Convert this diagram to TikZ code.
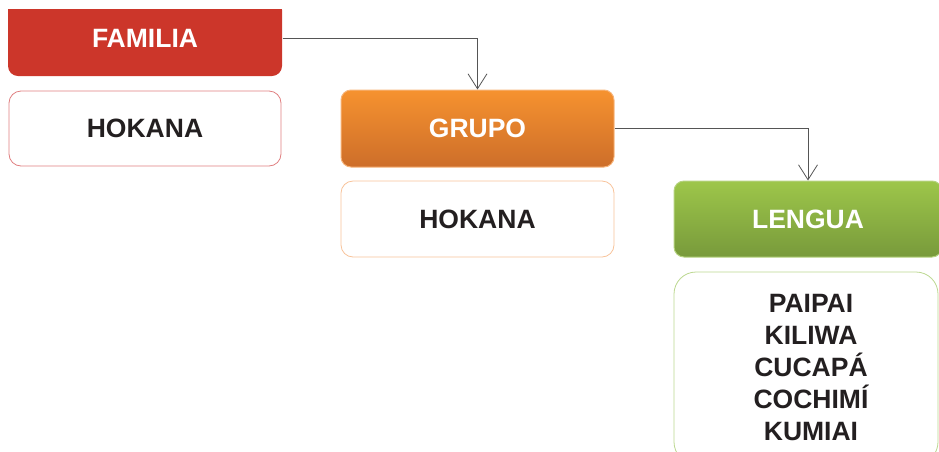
\documentclass[tikz,border=0pt]{standalone}
\usepackage{fontspec}
\setmainfont{Liberation Sans}
\usetikzlibrary{arrows.meta}
\definecolor{famred}{HTML}{CC362A}
\definecolor{famedge}{HTML}{E07F80}
\definecolor{grtop}{HTML}{F6922F}
\definecolor{grbot}{HTML}{CD6E2A}
\definecolor{gredge}{HTML}{F7B47A}
\definecolor{grlight}{HTML}{F8C39A}
\definecolor{lgtop}{HTML}{9DC64A}
\definecolor{lgbot}{HTML}{789A3B}
\definecolor{lgedge}{HTML}{B5D27F}
\definecolor{lglight}{HTML}{BCD890}
\definecolor{txtdark}{HTML}{231F20}
\definecolor{connc}{HTML}{555555}
\tikzset{
  hdrbox/.style={rounded corners=10pt, text=white, font=\fontsize{26.5}{32}\selectfont\bfseries, inner sep=0pt, line width=1pt},
  valbox/.style={rounded corners=12pt, fill=white, text=txtdark, font=\fontsize{26.5}{32}\selectfont\bfseries, inner sep=0pt, line width=0.8pt},
  conn/.style={draw=connc, line width=0.8pt, -{Straight Barb[length=15pt,width=19pt,line width=0.8pt]}}
}
\begin{document}
\begin{tikzpicture}[x=1pt,y=-1pt]
\useasboundingbox (0,0) rectangle (939,451);
\clip (0,0) rectangle (939,451);
% FAMILIA (top clipped flat)
\begin{scope}
\clip (0,9) rectangle (300,100);
\node[hdrbox, fill=famred, minimum width=274pt, minimum height=76pt] (fam) at (145,38) {FAMILIA};
\end{scope}
\node[valbox, draw=famedge, minimum width=272pt, minimum height=75pt] (hok1) at (145,128.5) {HOKANA};
% GRUPO
\node[hdrbox, draw=gredge, top color=grtop, bottom color=grbot, minimum width=273pt, minimum height=77pt] (grupo) at (477.5,128.5) {GRUPO};
\node[valbox, draw=grlight, minimum width=273pt, minimum height=76pt] (hok2) at (477.5,219) {HOKANA};
% LENGUA
\node[hdrbox, draw=lgedge, top color=lgtop, bottom color=lgbot, minimum width=268pt, minimum height=76pt] (lengua) at (808,219) {LENGUA};
\node[valbox, rounded corners=22pt, draw=lglight, minimum width=264pt, minimum height=192pt, align=center, text width=254pt, inner xsep=0pt] (langs) at (806,368) {\hspace*{10pt}PAIPAI\\\hspace*{10pt}KILIWA\\\hspace*{10pt}CUCAPÁ\\\hspace*{10pt}COCHIMÍ\\\hspace*{10pt}KUMIAI};
% connectors
\draw[conn] (fam.east) -| (grupo.north);
\draw[conn] (grupo.east) -| (lengua.north);
\end{tikzpicture}
\end{document}
